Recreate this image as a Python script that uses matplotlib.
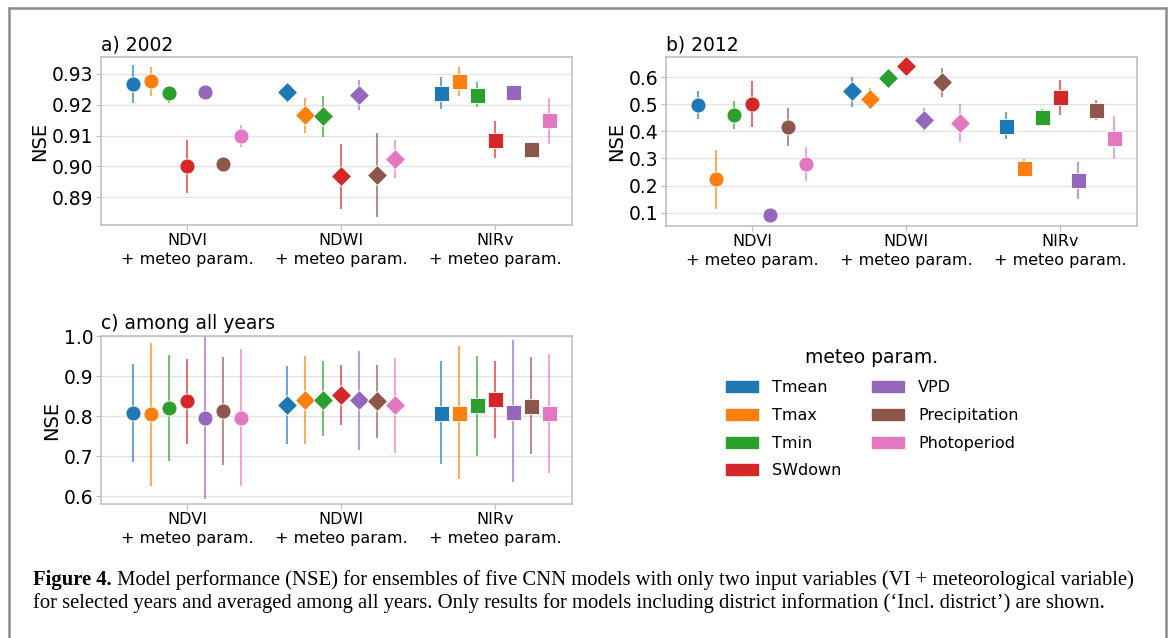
import matplotlib
matplotlib.use("Agg")
import matplotlib.pyplot as plt
from matplotlib.patches import Patch
from matplotlib.lines import Line2D
import numpy as np

# ---------------- data ----------------
groups = ["NDVI\n+ meteo param.", "NDWI\n+ meteo param.", "NIRv\n+ meteo param."]
params = ["Tmean", "Tmax", "Tmin", "SWdown", "VPD", "Precipitation", "Photoperiod"]
colors = ["#1f77b4", "#ff7f0e", "#2ca02c", "#d62728", "#9467bd", "#8c564b", "#e377c2"]
group_markers = ["o", "D", "s"]

# panel a) 2002 : mean, lower, upper  (rows: NDVI, NDWI, NIRv ; cols: params)
a_mean = [[0.9268, 0.9276, 0.9237, 0.9000, 0.9243, 0.9009, 0.9100],
          [0.9243, 0.9167, 0.9162, 0.8968, 0.9233, 0.8972, 0.9023],
          [0.9237, 0.9276, 0.9233, 0.9087, 0.9241, 0.9058, 0.9151]]
a_low = [[0.9206, 0.9228, 0.9206, 0.8915, 0.9230, 0.8995, 0.9064],
         [0.9235, 0.9109, 0.9097, 0.8861, 0.9184, 0.8835, 0.8963],
         [0.9187, 0.9228, 0.9194, 0.9026, 0.9235, 0.9040, 0.9072]]
a_high = [[0.9330, 0.9323, 0.9255, 0.9085, 0.9256, 0.9024, 0.9136],
          [0.9250, 0.9222, 0.9230, 0.9073, 0.9282, 0.9109, 0.9085],
          [0.9290, 0.9323, 0.9274, 0.9147, 0.9248, 0.9072, 0.9222]]

# panel b) 2012
b_mean = [[0.4975, 0.2235, 0.4605, 0.5000, 0.0926, 0.4148, 0.2800],
          [0.5470, 0.5200, 0.5980, 0.6400, 0.4430, 0.5820, 0.4310],
          [0.4210, 0.2630, 0.4540, 0.5260, 0.2210, 0.4800, 0.3750]]
b_low = [[0.446, 0.112, 0.409, 0.415, 0.085, 0.347, 0.217],
         [0.489, 0.485, 0.590, 0.609, 0.402, 0.528, 0.362],
         [0.372, 0.230, 0.421, 0.460, 0.152, 0.443, 0.298]]
b_high = [[0.547, 0.332, 0.510, 0.585, 0.100, 0.485, 0.344],
          [0.600, 0.560, 0.606, 0.662, 0.485, 0.634, 0.501],
          [0.473, 0.297, 0.483, 0.590, 0.288, 0.517, 0.455]]

# panel c) among all years
c_mean = [[0.807, 0.804, 0.821, 0.837, 0.796, 0.812, 0.796],
          [0.8265, 0.8397, 0.841, 0.852, 0.840, 0.837, 0.8265],
          [0.808, 0.807, 0.8265, 0.843, 0.811, 0.825, 0.807]]
c_low = [[0.684, 0.626, 0.688, 0.730, 0.593, 0.678, 0.624],
         [0.730, 0.730, 0.749, 0.777, 0.715, 0.746, 0.707],
         [0.681, 0.642, 0.700, 0.746, 0.634, 0.704, 0.658]]
c_high = [[0.931, 0.982, 0.953, 0.943, 1.000, 0.948, 0.967],
          [0.924, 0.949, 0.937, 0.928, 0.963, 0.927, 0.945],
          [0.937, 0.974, 0.951, 0.938, 0.990, 0.948, 0.956]]

a_ticks = [0.89, 0.90, 0.91, 0.92, 0.93]
b_ticks = [0.1, 0.2, 0.3, 0.4, 0.5, 0.6]
c_ticks = [0.6, 0.7, 0.8, 0.9, 1.0]

caption_bold = "Figure 4."
caption_line1 = " Model performance (NSE) for ensembles of five CNN models with only two input variables (VI + meteorological variable)"
caption_line2 = "for selected years and averaged among all years. Only results for models including district information (\u2018Incl. district\u2019) are shown."

# ---------------- figure ----------------
W, H = 1171, 638
DPI = 100
fig = plt.figure(figsize=(W / DPI, H / DPI), dpi=DPI)
fig.patch.set_facecolor("white")


def px_axes(left, top, right, bottom):
    return fig.add_axes([left / W, 1 - bottom / H, (right - left) / W, (bottom - top) / H])


step = 0.1167
offsets = (np.arange(len(params)) - 3) * step


def draw_panel(ax, mean, low, high, ticks, ylim, fmt, title):
    for g in range(len(groups)):
        for p in range(len(params)):
            x = g + offsets[p]
            ax.plot([x, x], [low[g][p], high[g][p]], color=colors[p], lw=1.5,
                    alpha=0.65, solid_capstyle="butt", zorder=2)
            ms = 10.8 if group_markers[g] != "D" else 9.8
            ax.plot([x], [mean[g][p]], marker=group_markers[g], ms=ms, color=colors[p],
                    mec="white", mew=0.6, ls="none", zorder=3)
    ax.set_xlim(-0.56, 2.5)
    ax.set_ylim(*ylim)
    ax.set_yticks(ticks)
    ax.set_yticklabels([fmt.format(t) for t in ticks], fontsize=13.5)
    ax.set_xticks(range(len(groups)))
    ax.set_xticklabels(groups, fontsize=11.5, linespacing=1.35)
    ax.set_ylabel("NSE", fontsize=14, labelpad=2)
    ax.grid(axis="y", color="#e3e3e3", lw=1.0, zorder=0)
    ax.set_axisbelow(True)
    for s in ax.spines.values():
        s.set_color("#bcbcbc")
        s.set_linewidth(1.1)
    ax.tick_params(axis="both", length=3.5, width=0.8, color="#bcbcbc", pad=2)
    ax.set_title(title, loc="left", fontsize=13.5, pad=5)


ax_a = px_axes(101, 57, 572, 225)
draw_panel(ax_a, a_mean, a_low, a_high, a_ticks, (0.881, 0.9355), "{:.2f}", "a) 2002")

ax_b = px_axes(666, 57, 1137, 226)
draw_panel(ax_b, b_mean, b_low, b_high, b_ticks, (0.051, 0.674), "{:.1f}", "b) 2012")

ax_c = px_axes(101, 336, 572, 504)
draw_panel(ax_c, c_mean, c_low, c_high, c_ticks, (0.58, 1.0), "{:.1f}", "c) among all years")

# legend
handles = [Patch(facecolor=c, edgecolor=c, label=l) for c, l in zip(colors, params)]
leg = fig.legend(handles=handles, loc="upper center", bbox_to_anchor=(872 / W, 1 - 334 / H),
                 ncol=2, frameon=False, fontsize=11.5, title="meteo param.",
                 title_fontsize=13.5, handlelength=2.0, handleheight=0.7,
                 handletextpad=0.9, columnspacing=1.9, labelspacing=0.8)

# frame around the figure
frame_kw = dict(color="#8c8c8c", lw=1.8, transform=fig.transFigure, clip_on=False)
fig.add_artist(Line2D([9 / W, 9 / W], [0, 1 - 8 / H], **frame_kw))
fig.add_artist(Line2D([9 / W, 1166 / W], [1 - 8 / H, 1 - 8 / H], **frame_kw))
fig.add_artist(Line2D([1166 / W, 1166 / W], [0, 1 - 8 / H], **frame_kw))

# caption
cap_fs = 14.9
t_bold = fig.text(33 / W, 1 - 580 / H, caption_bold, fontsize=cap_fs, fontweight="bold",
                  family="Liberation Serif", va="center", ha="left")
renderer = fig.canvas.get_renderer()
bb = t_bold.get_window_extent(renderer=renderer)
fig.text(bb.x1 / W, 1 - 580 / H, caption_line1, fontsize=cap_fs, family="Liberation Serif",
         va="center", ha="left")
fig.text(33 / W, 1 - 603 / H, caption_line2, fontsize=cap_fs, family="Liberation Serif",
         va="center", ha="left")

fig.savefig("out.png", dpi=DPI, facecolor="white")
